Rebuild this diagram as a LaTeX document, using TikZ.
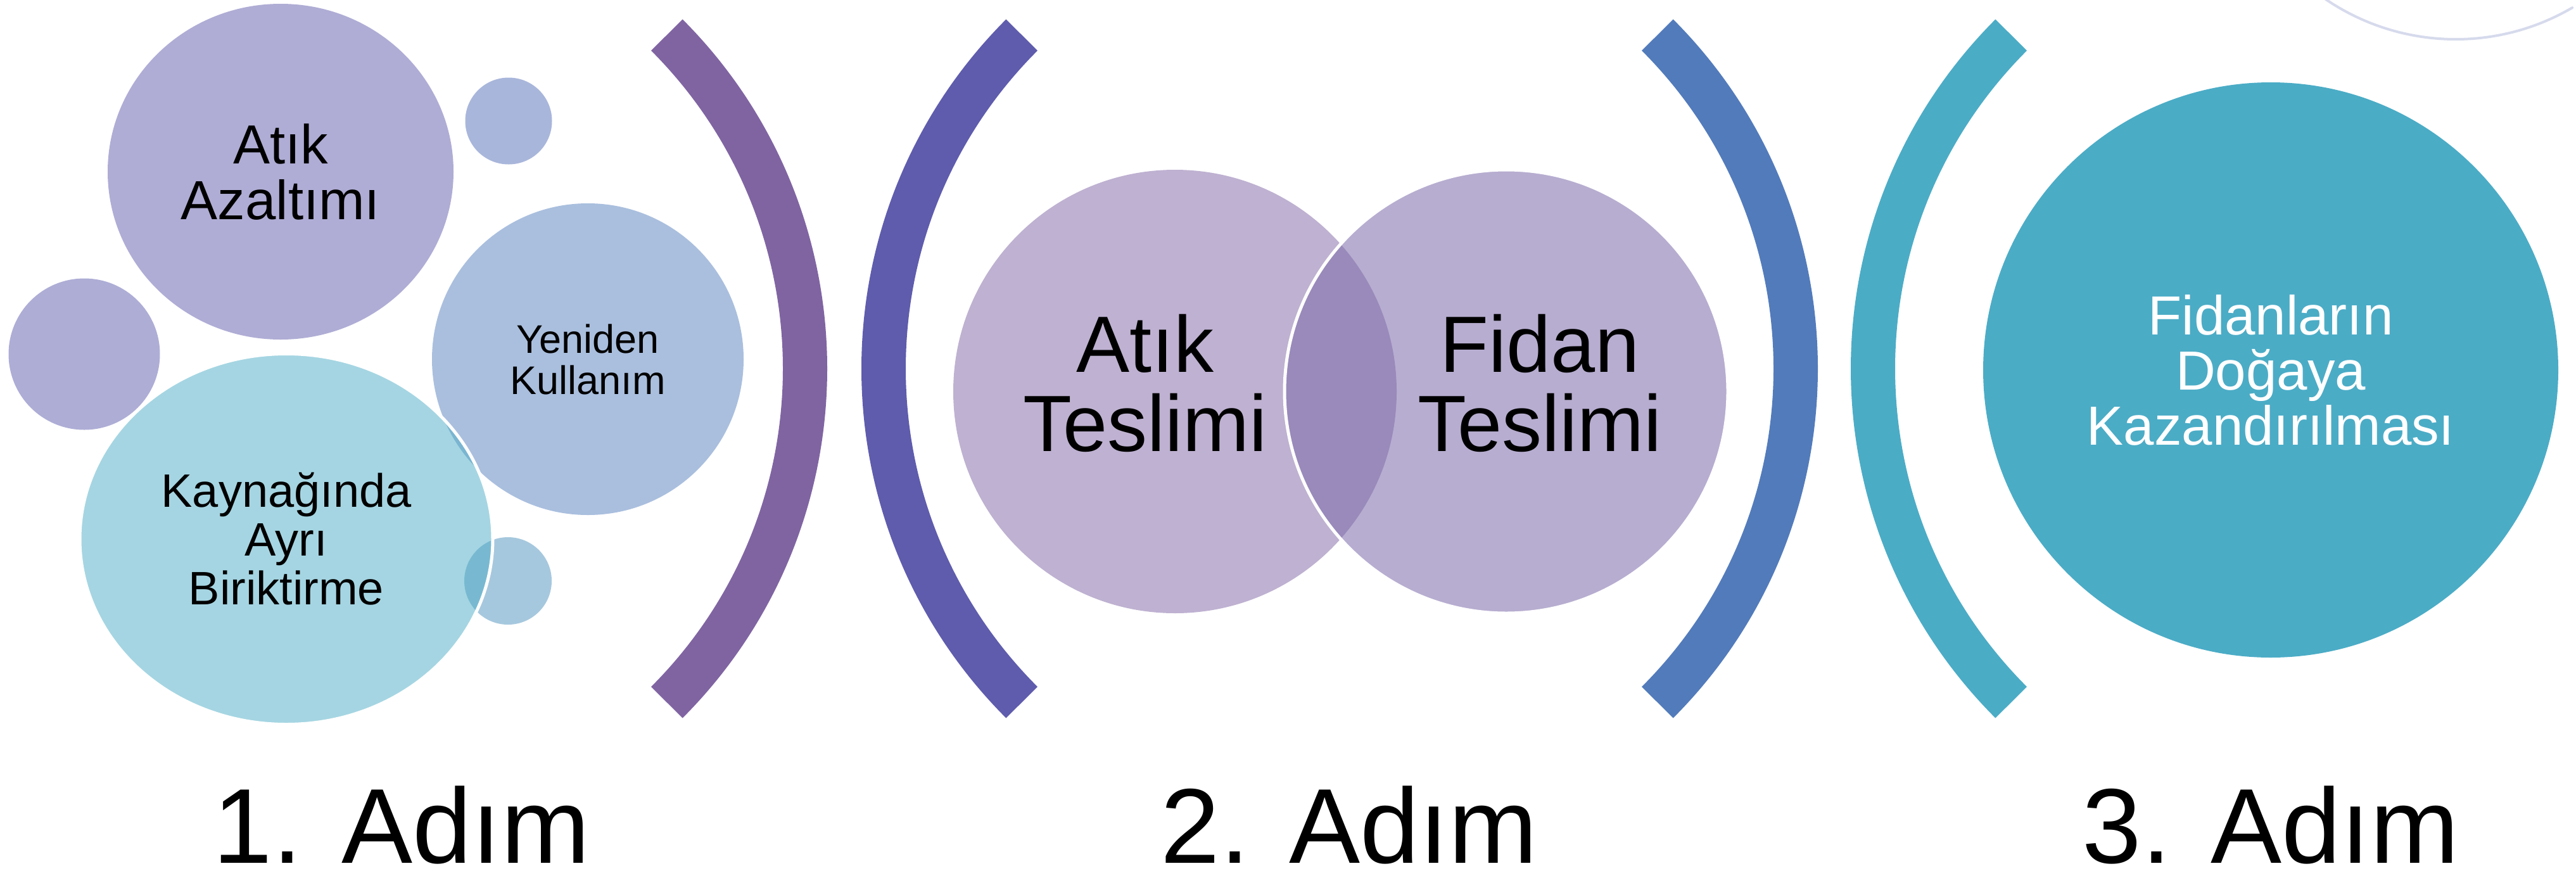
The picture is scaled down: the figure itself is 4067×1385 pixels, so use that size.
\documentclass[tikz,border=0pt]{standalone}
\usepackage{fontspec}
\setmainfont{Liberation Sans}
\usetikzlibrary{shapes.geometric}

\definecolor{lilac}{HTML}{AFADD5}
\definecolor{lilacb}{HTML}{ADADD6}
\definecolor{periw}{HTML}{A9B6DB}
\definecolor{steel}{HTML}{AABFDE}
\definecolor{skyb}{HTML}{A6C8DE}
\definecolor{aqua}{HTML}{4BACC6}
\definecolor{mauve}{HTML}{BEB1D1}
\definecolor{grape}{HTML}{7C6AAA}
\definecolor{brpurple}{HTML}{8064A2}
\definecolor{brindigo}{HTML}{5F5CAD}
\definecolor{brblue}{HTML}{527BBB}
\definecolor{haze}{HTML}{D6DAEC}

\begin{document}
\begin{tikzpicture}[x=1pt,y=-1pt,
  bubble/.style={ellipse,inner sep=0pt,align=center},
  ontop/.style={draw=white,line width=5pt,fill opacity=#1,text opacity=1},
  bracket/.style={line width=70pt},
  steplabel/.style={anchor=base,inner sep=0pt,font=\fontsize{168}{168}\selectfont}]

  \useasboundingbox (0,0) rectangle (4067,1385);

  \begin{scope}
    \clip (0,0) rectangle (4067,1385);
    \draw[haze,line width=4pt,line cap=round] (3877,-303) ++(59.7:365) arc[start angle=59.7,end angle=135,radius=365];
  \end{scope}

  \node[bubble,fill=lilac,minimum width=546pt,minimum height=530pt,font=\fontsize{87}{88}\selectfont] (azalt) at (443,271) {Atık\\Azaltımı};
  \node[bubble,fill=periw,minimum size=137pt] (dota) at (803,191) {};
  \node[bubble,fill=lilacb,minimum size=239pt] (dotb) at (133,559) {};
  \node[bubble,fill=steel,minimum size=492pt,font=\fontsize{63}{65}\selectfont] (yeniden) at (928,567) {Yeniden\\Kullanım};
  \node[bubble,fill=skyb,minimum size=138pt] (dotc) at (802,917) {};
  \node[bubble,ontop=0.5,fill=aqua,minimum width=652pt,minimum height=585pt,font=\fontsize{74}{77}\selectfont] (kaynak) at (452,851) {Kaynağında\\Ayrı\\Biriktirme};

  \draw[bracket,brpurple] (526,582) ++(-45:745) arc[start angle=-45,end angle=45,radius=745];
  \draw[bracket,brindigo] (2140,582) ++(135:745) arc[start angle=135,end angle=225,radius=745];

  \node[bubble,fill=mauve,minimum size=700pt] (atkt) at (1855,618) {};
  \node[bubble,ontop=0.55,fill=grape,minimum size=700pt] (fidt) at (2378,618) {};
  \node[align=center,font=\fontsize{126}{125}\selectfont] (atktx) at (1808,605) {Atık\\Teslimi};
  \node[align=center,font=\fontsize{126}{125}\selectfont] (fidtx) at (2431,605) {Fidan\\Teslimi};

  \draw[bracket,brblue] (2090,582) ++(-45:745) arc[start angle=-45,end angle=45,radius=745];
  \draw[bracket,aqua] (3702,582) ++(135:745) arc[start angle=135,end angle=225,radius=745];

  \node[bubble,fill=aqua,text=white,minimum size=908pt,font=\fontsize{87}{87}\selectfont] (dogaya) at (3585,584) {Fidanların\\Doğaya\\Kazandırılması};

  \node[steplabel] (adim1) at (634,1362) {1. Adım};
  \node[steplabel] (adim2) at (2130,1362) {2. Adım};
  \node[steplabel] (adim3) at (3585,1362) {3. Adım};
\end{tikzpicture}
\end{document}
